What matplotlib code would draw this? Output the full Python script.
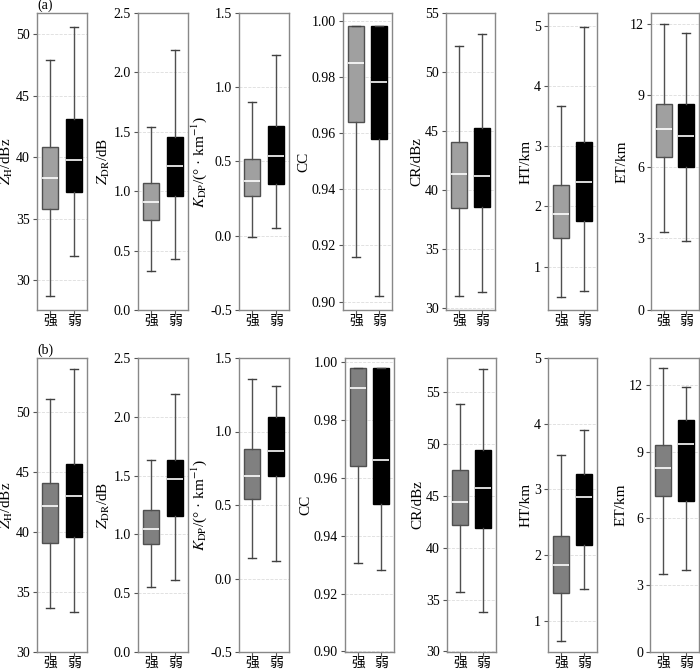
import matplotlib
matplotlib.use('Agg')
import matplotlib.pyplot as plt
from matplotlib.ticker import FormatStrFormatter

## Fonts: serif for numbers, CJK for the category labels
plt.rcParams['font.family'] = ['Liberation Serif', 'Noto Sans CJK SC']
plt.rcParams['mathtext.fontset'] = 'stix'
plt.rcParams['font.size'] = 10

## Data: each row is [lower whisker, Q1, median, Q3, upper whisker]
categories = ['强', '弱']

# (a) row
zh_a = [[28.7, 35.8, 38.3, 40.8, 47.9], [32.0, 37.2, 39.8, 43.1, 50.6]]
zdr_a = [[0.33, 0.76, 0.91, 1.07, 1.54], [0.43, 0.96, 1.21, 1.46, 2.19]]
kdp_a = [[-0.01, 0.27, 0.37, 0.52, 0.90], [0.05, 0.35, 0.54, 0.74, 1.22]]
cc_a = [[0.9157, 0.964, 0.985, 0.998, 0.998], [0.902, 0.958, 0.978, 0.998, 0.998]]
cr_a = [[31.0, 38.5, 41.4, 44.1, 52.2], [31.4, 38.6, 41.2, 45.3, 53.2]]
ht_a = [[0.50, 1.48, 1.87, 2.36, 3.66], [0.59, 1.76, 2.40, 3.07, 4.98]]
et_a = [[3.25, 6.4, 7.6, 8.65, 12.0], [2.9, 6.0, 7.3, 8.65, 11.6]]

# (b) row
zh_b = [[33.7, 39.1, 42.2, 44.1, 51.1], [33.3, 39.6, 43.0, 45.7, 53.6]]
zdr_b = [[0.55, 0.92, 1.05, 1.21, 1.63], [0.61, 1.16, 1.47, 1.63, 2.19]]
kdp_b = [[0.14, 0.54, 0.70, 0.88, 1.36], [0.12, 0.70, 0.87, 1.10, 1.31]]
cc_b = [[0.9305, 0.964, 0.991, 0.998, 0.998], [0.928, 0.951, 0.966, 0.998, 0.998]]
cr_b = [[35.7, 42.2, 44.4, 47.5, 53.9], [33.8, 41.9, 45.8, 49.4, 57.2]]
ht_b = [[0.69, 1.43, 1.85, 2.29, 3.53], [1.49, 2.15, 2.89, 3.24, 3.90]]
et_b = [[3.5, 7.0, 8.25, 9.3, 12.75], [3.7, 6.8, 9.33, 10.4, 11.9]]

ylabels = [r'$Z_{\rm H}$/dBz', r'$Z_{\rm DR}$/dB', r'$K_{\rm DP}$/(° · km$^{-1}$)',
           'CC', 'CR/dBz', 'HT/km', 'ET/km']
yticks = [[30, 35, 40, 45, 50], [0, 0.5, 1.0, 1.5, 2.0, 2.5], [-0.5, 0, 0.5, 1.0, 1.5],
          [0.90, 0.92, 0.94, 0.96, 0.98, 1.00], [30, 35, 40, 45, 50, 55],
          [1, 2, 3, 4, 5], [0, 3, 6, 9, 12]]
yfmt = ['%d', '%.1f', '%.1f', '%.2f', '%d', '%d', '%d']

rows = [
    dict(data=[zh_a, zdr_a, kdp_a, cc_a, cr_a, ht_a, et_a],
         ylims=[(27.6, 51.7), (0, 2.5), (-0.5, 1.5), (0.897, 1.0027), (29.85, 55), (0.28, 5.21), (0, 12.45)],
         lefts=[37, 138, 239, 343, 446, 548, 651], widths=[50, 50, 50, 49, 49, 49, 48],
         top=13, bottom=310, label='(a)', strong_color='#a0a0a0'),
    dict(data=[zh_b, zdr_b, kdp_b, cc_b, cr_b, ht_b, et_b],
         ylims=[(30, 54.55), (0, 2.5), (-0.5, 1.5), (0.8998, 1.0014), (29.94, 58.3), (0.525, 5.0), (0, 13.2)],
         lefts=[37, 138, 239, 345, 447, 548, 650], widths=[50, 50, 50, 49, 49, 49, 49],
         top=358, bottom=652, label='(b)', strong_color='#808080'),
]

W, H = 700, 669
fig = plt.figure(figsize=(W / 100, H / 100), dpi=100)

for row in rows:
    for i in range(7):
        ax = fig.add_axes([row['lefts'][i] / W, (H - row['bottom']) / H,
                           row['widths'][i] / W, (row['bottom'] - row['top']) / H])
        stats = []
        for vals, name in zip(row['data'][i], categories):
            stats.append(dict(whislo=vals[0], q1=vals[1], med=vals[2], q3=vals[3],
                              whishi=vals[4], label=name, fliers=[]))
        bp = ax.bxp(stats, positions=[1, 2], widths=0.7, patch_artist=True,
                    showfliers=False,
                    whiskerprops=dict(color='#505050', lw=1.0),
                    capprops=dict(color='#404040', lw=1.0),
                    medianprops=dict(color='white', lw=1.2))
        bp['boxes'][0].set_facecolor(row['strong_color'])
        bp['boxes'][0].set_edgecolor('#505050')
        bp['boxes'][1].set_facecolor('black')
        bp['boxes'][1].set_edgecolor('black')
        for b in bp['boxes']:
            b.set_linewidth(1.0)

        ax.set_xlim(0.45, 2.55)
        ax.set_ylim(*row['ylims'][i])
        ax.set_yticks(yticks[i])
        ax.yaxis.set_major_formatter(FormatStrFormatter(yfmt[i]))
        ax.set_xticks([1, 2])
        ax.set_xticklabels(categories, family=['Noto Sans CJK SC'], fontsize=10)
        ax.set_ylabel(ylabels[i], fontsize=11, labelpad=1)
        ax.yaxis.grid(True, ls='--', color='#dddddd', lw=0.6)
        ax.set_axisbelow(True)
        ax.tick_params(axis='y', length=3, width=0.8, color='#555555', pad=2)
        ax.tick_params(axis='x', length=3, width=0.8, color='#555555', pad=0)
        for sp in ax.spines.values():
            sp.set_color('#888888')
            sp.set_linewidth(1.0)
        if i == 0:
            fig.text(row['lefts'][0] / W, 1 - (row['top'] - 1) / H, row['label'],
                     ha='left', va='bottom', fontsize=10)

fig.savefig('out.png', dpi=100)
